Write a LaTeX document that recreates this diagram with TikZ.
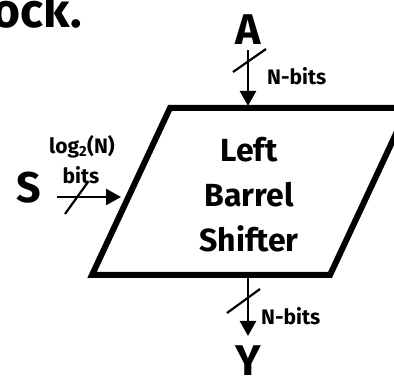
\documentclass[tikz,border=0pt]{standalone}
\usepackage{fontspec}
\setmainfont{Fira Sans}
\usetikzlibrary{arrows.meta}
\tikzset{
  box/.style={line width=6pt, line join=miter},
  wire/.style={line width=2.4pt, -{Triangle[length=15pt,width=16pt]}},
  slash/.style={line width=2.2pt},
  big/.style={font=\fontsize{43}{43}\selectfont\bfseries, inner sep=0pt, anchor=base},
  lbl/.style={font=\fontsize{21}{21}\selectfont\bfseries, inner sep=0pt},
  body/.style={font=\fontsize{32}{45}\selectfont\bfseries, align=center, inner sep=0pt}
}
\begin{document}
\begin{tikzpicture}[x=1pt,y=-1pt]
\useasboundingbox (0,0) rectangle (394,382);
% parallelogram
\coordinate (tl) at (170,108);
\coordinate (tr) at (408,108);
\coordinate (br) at (330,275);
\coordinate (bl) at (92,275);
\draw[box] (tl) -- (tr) -- (br) -- (bl) -- cycle;
% title fragment
\node[anchor=base east, font=\fontsize{48}{48}\selectfont\bfseries, inner sep=0pt] (title) at (82,28) {ock.};
% body text
\node[body] (bodytext) at (249,195) {Left\\Barrel\\Shifter};
% A input
\node[big] (A) at (248,45) {A};
\coordinate (astart) at (248,50);
\coordinate (ain) at (248,106);
\draw[wire] (astart) -- (ain);
\coordinate (as1) at (233,72);
\coordinate (as2) at (266,49);
\draw[slash] (as1) -- (as2);
\node[lbl, anchor=west] (an) at (267,76) {N-bits};
% Y output
\node[big] (Y) at (248,376) {Y};
\coordinate (yout) at (248,276);
\coordinate (ytip) at (248,336);
\draw[wire] (yout) -- (ytip);
\coordinate (ys1) at (227,313);
\coordinate (ys2) at (260,289);
\draw[slash] (ys1) -- (ys2);
\node[lbl, anchor=west] (yn) at (261,316) {N-bits};
% S input
\node[big] (S) at (29,203) {S};
\coordinate (sstart) at (57,197);
\coordinate (stip) at (121,197);
\draw[wire] (sstart) -- (stip);
\coordinate (ss1) at (65,214);
\coordinate (ss2) at (88,182);
\draw[slash] (ss1) -- (ss2);
\node[lbl] (slog) at (82,147) {log\textsubscript{2}(N)};
\node[lbl] (sbits) at (81,175) {bits};
\end{tikzpicture}
\end{document}
